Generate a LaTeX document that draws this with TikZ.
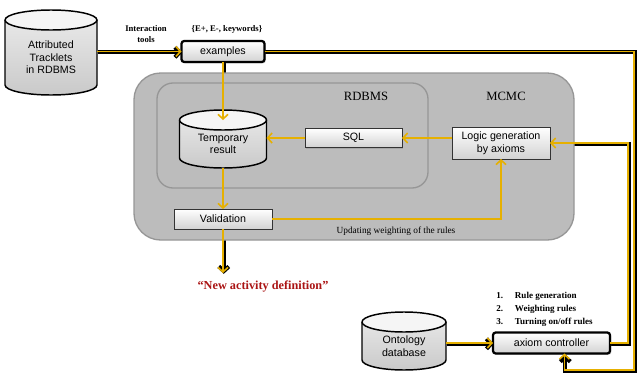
\documentclass[tikz,border=0pt]{standalone}
\usepackage{fontspec}
\setmainfont{Liberation Serif}
\setsansfont{Liberation Sans}
\usetikzlibrary{arrows.meta,shadows,calc}
\definecolor{Yel}{RGB}{230,176,0}
\definecolor{GrayFill}{RGB}{188,188,188}
\definecolor{GrayLine}{RGB}{150,150,150}
\definecolor{DarkRed}{RGB}{170,20,20}
\pgfdeclarelayer{under}
\pgfdeclarelayer{boxes}
\pgfsetlayers{under,boxes,main}
\tikzset{
  ylw/.style={draw=Yel, line width=1.2pt},
  blk/.style={draw=black, line width=3.1pt, transform canvas={xshift=0.6pt,yshift=-0.6pt}},
  tip/.style={-{Straight Barb[length=3.4pt,width=7.5pt]}},
  boxnode/.style={draw=black!80, line width=0.6pt, top color=white, bottom color=gray!35,
    font=\sffamily\fontsize{8}{9.5}\selectfont, align=center, inner sep=0pt, outer sep=0pt,
    drop shadow={shadow xshift=1pt, shadow yshift=-1pt, opacity=0.35}},
  boldbox/.style={boxnode, draw=black, line width=1.7pt, rounded corners=2pt},
  cylnode/.style={font=\sffamily\fontsize{8}{9.5}\selectfont, align=center, inner sep=0pt, outer sep=0pt},
  cylbody/.style={top color=gray!15, bottom color=gray!42},
  cyltop/.style={draw=black, line width=1.1pt, fill=gray!8},
  cylline/.style={draw=black, line width=1.1pt},
  grayarea/.style={draw=GrayLine, line width=1pt, fill=GrayFill, inner sep=0pt, outer sep=0pt},
  lbl/.style={font=\fontsize{9.5}{11}\selectfont, inner sep=0pt},
  small/.style={font=\bfseries\fontsize{6.5}{8.5}\selectfont, inner sep=0pt, align=center},
}
\newcommand\cylshape[3]{%
  \begin{pgfonlayer}{boxes}
  \path[cylbody] (#1.north west) -- ([yshift=#3]#1.south west)
     arc[start angle=180,end angle=360,x radius=#2,y radius=#3] -- (#1.north east)
     arc[start angle=0,end angle=180,x radius=#2,y radius=#3] -- cycle;
  \draw[cylline] (#1.north west) -- ([yshift=#3]#1.south west)
     arc[start angle=180,end angle=360,x radius=#2,y radius=#3] -- (#1.north east);
  \draw[cyltop] (#1.north west) arc[start angle=180,end angle=-180,x radius=#2,y radius=#3];
  \end{pgfonlayer}}
\newcommand\conn[2][]{%
  \begin{pgfonlayer}{under}\draw[blk,#1] #2;\end{pgfonlayer}
  \draw[ylw,#1] #2;}
\begin{document}
\begin{tikzpicture}[x=0.75pt,y=-0.75pt]
\useasboundingbox (0,0) rectangle (637,379);
% gray areas
\begin{pgfonlayer}{boxes}
\node[grayarea, rounded corners=20pt, minimum width=330pt, minimum height=125.25pt] (mcmc) at (354,156.5) {};
\node[grayarea, rounded corners=12pt, minimum width=203.25pt, minimum height=78.75pt] (rdbms) at (292.5,135.5) {};
\end{pgfonlayer}
\node[lbl] (rdbmslbl) at (366,96) {RDBMS};
\node[lbl] (mcmclbl) at (506,96) {MCMC};
% nodes
\node[cylnode, minimum width=69pt, minimum height=56.25pt] (trk) at (51,57.5) {Attributed\\Tracklets\\in RDBMS};
\cylshape{trk}{34.5pt}{7.5pt}
\node[boldbox, minimum width=62.25pt, minimum height=15.75pt] (ex) at (223,51.5) {examples};
\node[cylnode, minimum width=65.25pt, minimum height=36pt] (tmp) at (223,144) {Temporary\\result};
\cylshape{tmp}{32.625pt}{7.5pt}
\node[boxnode, minimum width=72.75pt, minimum height=14.25pt] (sql) at (353.5,138) {SQL};
\node[boxnode, minimum width=73.5pt, minimum height=24pt] (logic) at (501,143) {Logic generation\\by axioms};
\node[boxnode, minimum width=73.5pt, minimum height=15pt] (val) at (223,219) {Validation};
\node[cylnode, minimum width=63pt, minimum height=36pt] (ont) at (404,346) {Ontology\\database};
\cylshape{ont}{31.5pt}{7.5pt}
\node[boldbox, minimum width=87.75pt, minimum height=15.75pt] (ax) at (551.5,343) {axiom controller};
% labels
\node[small] (itools) at (146,34) {Interaction\\tools};
\node[small] (ekw) at (227,29) {\{E+, E-, keywords\}};
\node[font=\fontsize{7}{8.5}\selectfont, inner sep=0pt] (upd) at (396,231) {Updating weighting of the rules};
\node[font=\bfseries\fontsize{9.2}{11}\selectfont, text=DarkRed, inner sep=0pt] (nad) at (263,287) {“New activity definition”};
\node[small, anchor=west, align=left, font=\bfseries\fontsize{6.8}{9.7}\selectfont] (list) at (496,309)
  {\makebox[14pt][l]{1.}Rule generation\\\makebox[14pt][l]{2.}Weighting rules\\\makebox[14pt][l]{3.}Turning on/off rules};
\coordinate (vout) at (223,273);
\coordinate (r1) at (634,370);
% connectors
\conn[tip]{(sql.west) -- (sql.west -| tmp.east)}
\conn[tip]{(logic.west |- sql.west) -- (sql.east)}
\conn[tip]{(trk.east |- ex.west) -- (ex.west)}
\conn[tip]{(ex.south) -- (tmp.north)}
\conn[tip]{(tmp.south) -- (val.north)}
\conn[tip]{(val.south) -- (vout)}
\conn[tip]{(val.east) -| (logic.south)}
\conn[tip]{(ex.east) -| (r1) -| ([xshift=9.75pt]ax.south)}
\conn[tip]{(ax.east) -- ++(13.5pt,0) |- (logic.east)}
\conn[tip]{(ont.east |- ax.west) -- (ax.west)}
\end{tikzpicture}
\end{document}
